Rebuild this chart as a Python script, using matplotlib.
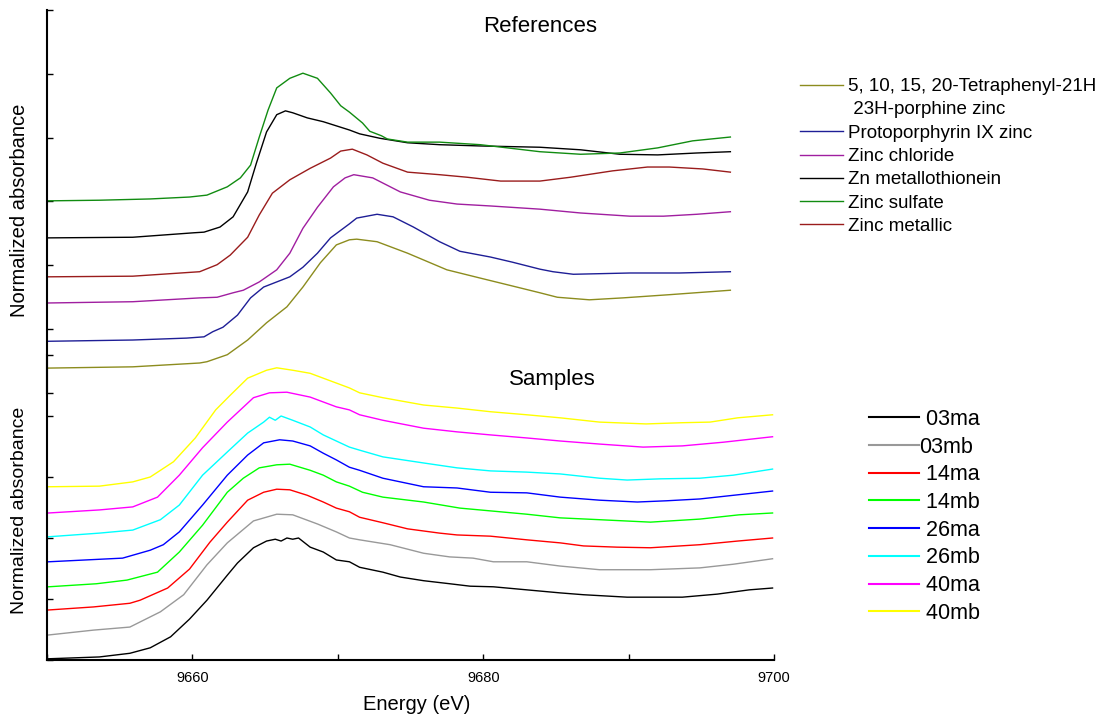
import matplotlib
matplotlib.use("Agg")
import matplotlib.pyplot as plt
from matplotlib.lines import Line2D
from matplotlib.ticker import FixedLocator, NullFormatter

plt.rcParams["font.family"] = ["Liberation Sans", "DejaVu Sans"]

# ---- reference spectra (energy in eV, offset normalized absorbance) ----
tpp_e = [9650.0, 9655.9, 9660.5, 9661.0, 9662.4, 9663.8, 9665.1, 9666.5, 9667.6, 9668.8,
         9669.9, 9670.8, 9671.3, 9672.7, 9674.8, 9677.5, 9679.8, 9682.3, 9683.9, 9685.1,
         9687.3, 9689.6, 9692.8, 9697.0]
tpp_y = [0.39, 0.41, 0.47, 0.49, 0.60, 0.83, 1.10, 1.35, 1.66, 2.04,
         2.32, 2.40, 2.41, 2.37, 2.19, 1.93, 1.80, 1.66, 1.57, 1.50,
         1.46, 1.49, 1.54, 1.61]

ppix_e = [9650.0, 9655.9, 9659.6, 9660.8, 9661.4, 9662.1, 9663.1, 9664.0, 9664.9, 9665.8,
          9666.7, 9667.6, 9668.6, 9669.5, 9670.8, 9671.3, 9672.7, 9673.8, 9675.2, 9677.0,
          9678.4, 9680.5, 9682.0, 9683.9, 9684.8, 9686.2, 9690.1, 9693.5, 9697.0]
ppix_y = [0.81, 0.83, 0.86, 0.88, 0.96, 1.03, 1.22, 1.49, 1.66, 1.74,
          1.82, 1.97, 2.19, 2.43, 2.65, 2.74, 2.80, 2.76, 2.60, 2.37,
          2.22, 2.13, 2.05, 1.94, 1.90, 1.86, 1.88, 1.88, 1.90]

zncl_e = [9650.0, 9655.9, 9660.5, 9661.7, 9662.8, 9663.5, 9664.6, 9665.8, 9666.7, 9667.6,
          9668.6, 9669.7, 9670.5, 9671.1, 9672.4, 9674.3, 9676.3, 9678.2, 9680.5, 9683.9,
          9686.7, 9690.1, 9692.4, 9694.7, 9697.0]
zncl_y = [1.41, 1.43, 1.49, 1.50, 1.57, 1.61, 1.74, 1.93, 2.19, 2.58,
          2.91, 3.23, 3.37, 3.42, 3.37, 3.15, 3.02, 2.96, 2.93, 2.88,
          2.82, 2.77, 2.77, 2.80, 2.84]

mt_e = [9650.0, 9655.9, 9660.1, 9660.8, 9661.9, 9662.8, 9663.8, 9664.4, 9665.1, 9665.8,
        9666.4, 9666.9, 9667.9, 9669.0, 9670.8, 9671.5, 9672.9, 9674.8, 9677.0, 9679.8,
        9683.9, 9686.7, 9689.4, 9692.0, 9694.7, 9697.0]
mt_y = [2.43, 2.44, 2.51, 2.52, 2.60, 2.76, 3.15, 3.60, 4.09, 4.36,
        4.42, 4.39, 4.31, 4.25, 4.12, 4.06, 3.99, 3.92, 3.89, 3.87,
        3.85, 3.81, 3.74, 3.73, 3.76, 3.78]

znso4_e = [9650.0, 9653.6, 9657.1, 9659.8, 9661.0, 9662.4, 9663.3, 9664.0, 9664.6, 9665.2,
           9665.8, 9666.7, 9667.6, 9668.6, 9669.5, 9670.2, 9670.8, 9671.7, 9672.2, 9673.0,
           9673.4, 9674.8, 9677.0, 9679.8, 9683.9, 9686.7, 9689.4, 9692.0, 9694.4, 9697.0]
znso4_y = [3.01, 3.02, 3.04, 3.07, 3.10, 3.23, 3.37, 3.57, 4.01, 4.43,
           4.78, 4.93, 5.01, 4.93, 4.70, 4.50, 4.40, 4.23, 4.10, 4.03,
           3.98, 3.93, 3.93, 3.89, 3.78, 3.74, 3.76, 3.84, 3.95, 4.01]

znmet_e = [9650.0, 9655.9, 9660.5, 9661.7, 9662.6, 9663.8, 9664.6, 9665.5, 9666.7, 9668.1,
           9669.5, 9670.2, 9671.0, 9672.0, 9673.1, 9674.8, 9677.0, 9678.9, 9681.2, 9683.9,
           9686.0, 9688.9, 9691.3, 9692.8, 9695.1, 9697.0]
znmet_y = [1.82, 1.83, 1.90, 2.01, 2.16, 2.44, 2.79, 3.13, 3.34, 3.52,
           3.68, 3.79, 3.82, 3.73, 3.60, 3.46, 3.42, 3.38, 3.32, 3.32,
           3.38, 3.48, 3.54, 3.54, 3.51, 3.46]

ref_labels = ["5, 10, 15, 20-Tetraphenyl-21H", "Protoporphyrin IX zinc", "Zinc chloride",
              "Zn metallothionein", "Zinc sulfate", "Zinc metallic"]
ref_label_extra = " 23H-porphine zinc"
ref_colors = ["#8c8c1e", "#1e1e96", "#a01ea0", "#000000", "#118c11", "#9a1c1c"]

# ---- samples ----
s03ma_e = [9650.1, 9653.6, 9655.7, 9657.1, 9658.5, 9659.8, 9661.0, 9662.4, 9663.1, 9664.2,
           9665.1, 9665.7, 9666.1, 9666.5, 9666.9, 9667.3, 9668.1, 9669.0, 9669.9, 9670.8,
           9671.5, 9673.1, 9674.3, 9675.9, 9677.7, 9679.1, 9680.7, 9683.0, 9685.3, 9686.9,
           9689.9, 9691.5, 9693.7, 9696.1, 9698.3, 9699.9]
s03ma_y = [0.02, 0.05, 0.11, 0.20, 0.38, 0.67, 0.98, 1.39, 1.59, 1.84,
           1.95, 1.98, 1.95, 2.00, 1.98, 2.00, 1.85, 1.77, 1.64, 1.61,
           1.52, 1.44, 1.36, 1.30, 1.25, 1.21, 1.20, 1.15, 1.10, 1.07,
           1.03, 1.03, 1.03, 1.08, 1.15, 1.18]

s03mb_e = [9650.1, 9653.2, 9655.7, 9657.8, 9659.4, 9661.0, 9662.4, 9664.2, 9665.8, 9666.9,
           9668.6, 9669.9, 9670.8, 9671.5, 9673.6, 9675.9, 9677.7, 9679.3, 9680.7, 9683.0,
           9685.3, 9688.0, 9691.5, 9694.9, 9697.2, 9699.9]
s03mb_y = [0.41, 0.49, 0.54, 0.79, 1.07, 1.56, 1.92, 2.28, 2.39, 2.38,
           2.23, 2.10, 2.00, 1.97, 1.89, 1.75, 1.69, 1.67, 1.61, 1.61,
           1.54, 1.48, 1.48, 1.51, 1.57, 1.66]

s14ma_e = [9650.1, 9653.2, 9655.7, 9656.4, 9658.3, 9659.8, 9661.2, 9662.4, 9663.8, 9664.9,
           9665.8, 9666.7, 9667.9, 9669.0, 9669.9, 9670.8, 9671.5, 9673.1, 9674.8, 9677.0,
           9678.2, 9680.5, 9683.0, 9685.3, 9686.9, 9689.2, 9691.5, 9694.9, 9697.5, 9699.9]
s14ma_y = [0.82, 0.87, 0.93, 0.98, 1.18, 1.49, 1.93, 2.26, 2.62, 2.75,
           2.80, 2.79, 2.70, 2.59, 2.49, 2.43, 2.34, 2.25, 2.15, 2.08,
           2.05, 2.03, 1.97, 1.92, 1.87, 1.85, 1.84, 1.89, 1.95, 2.00]

s14mb_e = [9650.1, 9653.4, 9655.5, 9657.6, 9659.1, 9660.7, 9662.4, 9663.5, 9664.6, 9665.8,
           9666.7, 9668.1, 9669.0, 9669.9, 9670.8, 9671.7, 9673.1, 9675.9, 9678.4, 9680.7,
           9683.0, 9685.3, 9688.0, 9691.5, 9694.9, 9697.6, 9699.9]
s14mb_y = [1.20, 1.25, 1.31, 1.44, 1.77, 2.21, 2.75, 2.98, 3.15, 3.20,
           3.21, 3.11, 3.03, 2.92, 2.85, 2.75, 2.67, 2.59, 2.49, 2.44,
           2.39, 2.33, 2.30, 2.26, 2.31, 2.38, 2.41]

s26ma_e = [9650.1, 9655.2, 9657.1, 9658.0, 9659.1, 9660.7, 9662.4, 9663.8, 9664.9, 9666.0,
           9666.9, 9668.1, 9669.0, 9669.9, 9670.8, 9671.5, 9673.1, 9675.9, 9678.2, 9680.5,
           9683.0, 9685.3, 9688.0, 9690.6, 9692.6, 9694.9, 9697.2, 9699.9]
s26ma_y = [1.61, 1.67, 1.80, 1.89, 2.10, 2.54, 3.03, 3.36, 3.56, 3.61,
           3.59, 3.51, 3.39, 3.28, 3.16, 3.11, 2.98, 2.84, 2.82, 2.75,
           2.74, 2.67, 2.62, 2.59, 2.61, 2.64, 2.70, 2.77]

s26mb_e = [9650.1, 9653.6, 9655.9, 9657.8, 9659.1, 9660.7, 9662.4, 9663.8, 9664.9, 9665.3,
           9665.7, 9666.1, 9666.9, 9668.1, 9669.0, 9669.9, 9670.8, 9671.5, 9673.1, 9675.9,
           9678.2, 9680.5, 9683.0, 9685.3, 9688.0, 9689.9, 9692.2, 9694.9, 9697.2, 9699.9]
s26mb_y = [2.02, 2.08, 2.13, 2.30, 2.54, 3.03, 3.41, 3.72, 3.90, 3.98,
           3.93, 4.00, 3.93, 3.82, 3.69, 3.59, 3.49, 3.44, 3.33, 3.23,
           3.15, 3.10, 3.08, 3.05, 2.98, 2.95, 2.97, 2.98, 3.03, 3.13]

s40ma_e = [9650.1, 9653.6, 9655.9, 9657.6, 9659.1, 9660.7, 9662.4, 9664.2, 9665.3, 9666.5,
           9668.1, 9669.0, 9669.9, 9670.8, 9671.5, 9673.1, 9675.9, 9678.2, 9680.5, 9683.0,
           9685.3, 9688.0, 9691.0, 9693.7, 9696.5, 9699.9]
s40ma_y = [2.41, 2.46, 2.51, 2.67, 3.03, 3.48, 3.90, 4.30, 4.38, 4.39,
           4.31, 4.23, 4.15, 4.10, 4.02, 3.93, 3.80, 3.74, 3.69, 3.64,
           3.59, 3.54, 3.49, 3.51, 3.57, 3.66]

s40mb_e = [9650.1, 9653.6, 9655.9, 9657.1, 9658.7, 9660.2, 9661.6, 9662.6, 9663.8, 9665.1,
           9665.8, 9666.9, 9668.1, 9669.0, 9669.9, 9670.8, 9671.5, 9673.1, 9675.9, 9678.2,
           9680.5, 9683.0, 9685.3, 9688.0, 9691.2, 9693.7, 9695.6, 9697.5, 9699.9]
s40mb_y = [2.84, 2.85, 2.92, 3.00, 3.25, 3.64, 4.10, 4.34, 4.62, 4.75,
           4.79, 4.75, 4.70, 4.62, 4.54, 4.46, 4.38, 4.30, 4.18, 4.13,
           4.07, 4.02, 3.97, 3.90, 3.87, 3.89, 3.90, 3.97, 4.02]

sample_labels = ["03ma", "03mb", "14ma", "14mb", "26ma", "26mb", "40ma", "40mb"]
sample_colors = ["#000000", "#999999", "#ff0000", "#00ff00", "#0000ff", "#00ffff", "#ff00ff", "#ffff00"]

ref_series = [(tpp_e, tpp_y), (ppix_e, ppix_y), (zncl_e, zncl_y),
              (mt_e, mt_y), (znso4_e, znso4_y), (znmet_e, znmet_y)]
sample_series = [(s03ma_e, s03ma_y), (s03mb_e, s03mb_y), (s14ma_e, s14ma_y), (s14mb_e, s14mb_y),
                 (s26ma_e, s26ma_y), (s26mb_e, s26mb_y), (s40ma_e, s40ma_y), (s40mb_e, s40mb_y)]

W, H = 1104, 720
fig = plt.figure(figsize=(W / 100, H / 100), dpi=100)
fig.patch.set_facecolor("white")


def fx(px):
    return px / W


def fy(py):
    return 1 - py / H


ax_top = fig.add_axes([fx(47), fy(393), fx(774) - fx(47), fy(10) - fy(393)])
ax_bot = fig.add_axes([fx(47), fy(660), fx(774) - fx(47), fy(355) - fy(660)])

for ax in (ax_top, ax_bot):
    ax.set_facecolor("none")
    ax.set_xlim(9650, 9700)
    for side in ("top", "right"):
        ax.spines[side].set_visible(False)
    ax.spines["left"].set_linewidth(1.5)
    ax.tick_params(axis="y", direction="in", length=4, width=1, labelleft=False)

ax_top.set_ylim(0, 6)
ax_top.spines["bottom"].set_visible(False)
ax_top.tick_params(axis="x", bottom=False, labelbottom=False)
ax_top.yaxis.set_major_locator(FixedLocator([0, 1, 2, 3, 4, 5, 6]))

ax_bot.set_ylim(0, 5)
ax_bot.spines["bottom"].set_linewidth(1.5)
ax_bot.yaxis.set_major_locator(FixedLocator([0, 1, 2, 3, 4, 5]))
ax_bot.xaxis.set_major_locator(FixedLocator([9660, 9680, 9700]))
ax_bot.xaxis.set_minor_locator(FixedLocator([9650, 9670, 9690]))
ax_bot.xaxis.set_minor_formatter(NullFormatter())
ax_bot.tick_params(axis="x", which="both", direction="in", length=4, width=1,
                   labelsize=10.5, pad=8)

ref_handles = []
for (e, y), c in zip(ref_series, ref_colors):
    (ln,) = ax_top.plot(e, y, color=c, lw=1.0)
    ref_handles.append(ln)

sample_handles = []
for (e, y), c in zip(sample_series, sample_colors):
    (ln,) = ax_bot.plot(e, y, color=c, lw=1.0)
    sample_handles.append(ln)

fig.text(fx(540), fy(27), "References", fontsize=16, ha="center", va="center")
fig.text(fx(552), fy(380), "Samples", fontsize=16, ha="center", va="center")
fig.text(fx(20), fy(210), "Normalized absorbance", fontsize=14.5, rotation=90, ha="center", va="center")
fig.text(fx(20), fy(510), "Normalized absorbance", fontsize=14, rotation=90, ha="center", va="center")
fig.text(fx(417), fy(705), "Energy (eV)", fontsize=14.5, ha="center", va="center")

# reference legend: the long name wraps onto a second row with no handle
blank = Line2D([], [], linestyle="none")
leg_handles = [ref_handles[0], blank] + ref_handles[1:]
leg_labels = [ref_labels[0], ref_label_extra] + ref_labels[1:]
fig.legend(leg_handles, leg_labels, loc="upper left", bbox_to_anchor=(fx(800), fy(78)),
           frameon=False, fontsize=13.5, handlelength=2.3, handletextpad=0.27,
           labelspacing=0.33, borderpad=0, borderaxespad=0)

# sample legend: labels padded with a space, except 03mb which sits against its line
pad_labels = [lab if lab == "03mb" else " " + lab for lab in sample_labels]
fig.legend(sample_handles, pad_labels, loc="upper left", bbox_to_anchor=(fx(869), fy(409)),
           frameon=False, fontsize=15.5, handlelength=2.3, handletextpad=0.05,
           labelspacing=0.31, borderpad=0, borderaxespad=0)
for h in fig.legends[1].legend_handles:
    h.set_linewidth(1.5)

fig.savefig("out.png", dpi=100, facecolor="white")
